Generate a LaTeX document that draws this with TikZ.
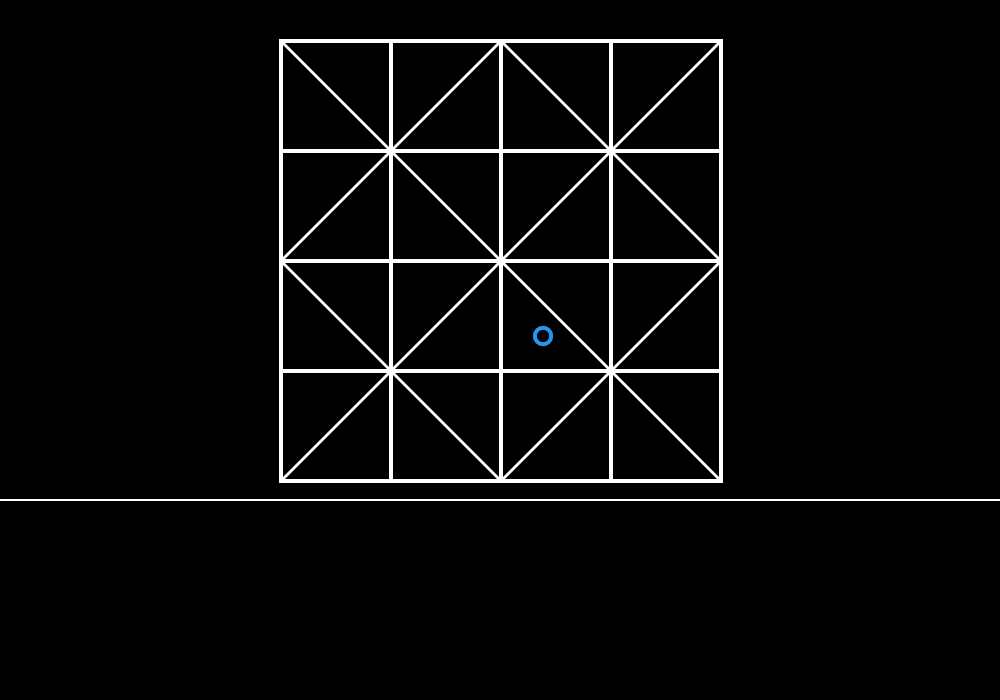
\documentclass[tikz,border=0pt]{standalone}
\definecolor{dotblue}{RGB}{33,150,243}
\tikzset{
  gridline/.style={draw=white, line width=1.05pt, line cap=rect},
  diagline/.style={draw=white, line width=0.75pt},
  baseline/.style={draw=white, line width=0.7pt},
  marker/.style={circle, draw=dotblue, line width=1.1pt, minimum size=0.165cm, inner sep=0pt}
}
\begin{document}
\begin{tikzpicture}[x=0.01cm, y=-0.01cm]
\fill[black] (0,0) rectangle (1000,700);
\useasboundingbox (0,0) rectangle (1000,700);
% grid points
\foreach \i in {0,...,4} {
  \foreach \j in {0,...,4} {
    \coordinate (p\i\j) at ({281+110*\i},{41+110*\j});
  }
}
% diagonals
\draw[diagline] (p00) -- (p11);
\draw[diagline] (p11) -- (p20);
\draw[diagline] (p20) -- (p31);
\draw[diagline] (p31) -- (p40);
\draw[diagline] (p02) -- (p11);
\draw[diagline] (p11) -- (p22);
\draw[diagline] (p22) -- (p31);
\draw[diagline] (p31) -- (p42);
\draw[diagline] (p02) -- (p13);
\draw[diagline] (p13) -- (p22);
\draw[diagline] (p22) -- (p33);
\draw[diagline] (p33) -- (p42);
\draw[diagline] (p04) -- (p13);
\draw[diagline] (p13) -- (p24);
\draw[diagline] (p24) -- (p33);
\draw[diagline] (p33) -- (p44);
% grid lines
\foreach \k in {0,...,4} {
  \draw[gridline] (p\k0) -- (p\k4);
  \draw[gridline] (p0\k) -- (p4\k);
}
% ground line
\coordinate (gl) at (0,500);
\coordinate (gr) at (1000,500);
\draw[baseline] (gl) -- (gr);
% marker
\node[marker] (m) at (543,336) {};
\end{tikzpicture}
\end{document}
